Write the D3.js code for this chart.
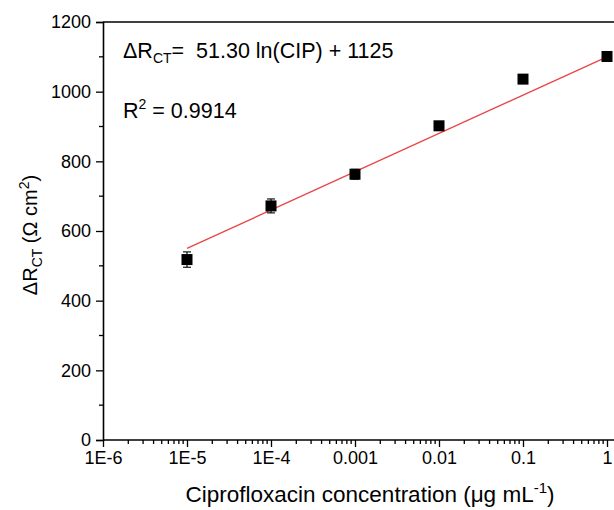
<!DOCTYPE html>
<html>
<head>
<meta charset="utf-8">
<script src="https://cdn.jsdelivr.net/npm/d3@7"></script>
<style>
  body { margin: 0; background: #fff; }
  svg text { font-family: "Liberation Sans", Arial, sans-serif; fill: #000; }
</style>
</head>
<body>
<div id="chart"></div>
<script>
// CIP concentration (µg/mL) and measured ΔRct (Ω cm²)
const conc = [1e-5, 1e-4, 1e-3, 1e-2, 1e-1, 1];
const dRct = [518, 672, 763, 902, 1036, 1101];
const errs = [22, 20, 14, 12, 6, 6];
// fitted line endpoints
const fitX = [1e-5, 1];
const fitY = [550, 1100];
const xTicks = [1e-6, 1e-5, 1e-4, 1e-3, 1e-2, 1e-1, 1];
const xTickLabels = ["1E-6", "1E-5", "1E-4", "0.001", "0.01", "0.1", "1"];
const yTicks = [0, 200, 400, 600, 800, 1000, 1200];

const W = 614, H = 510, M = {t: 22, r: -6, b: 70, l: 103};

const svg = d3.select("#chart").append("svg")
  .attr("width", W)
  .attr("height", H);

// 84 px per decade
const x = d3.scaleLog()
  .domain([1e-6, 1.3])
  .range([M.l, M.l + 84 * Math.log10(1.3e6)]);

const y = d3.scaleLinear()
  .domain([0, 1200])
  .range([H - M.b, M.t]);

// minor ticks for the log axis
const xMinor = [];
xTicks.forEach(t => {
  for (let k = 2; k <= 9; k++) if (t * k < 1.3) xMinor.push(t * k);
});
const yMinor = d3.range(100, 1200, 200);

// top frame line
svg.append("line")
  .attr("x1", M.l).attr("x2", W + 10)
  .attr("y1", y(1200)).attr("y2", y(1200))
  .attr("stroke", "#000").attr("stroke-width", 1.6);

// x axis
const xAxis = svg.append("g")
  .attr("transform", `translate(0,${y(0)})`)
  .call(d3.axisBottom(x).tickValues(xTicks)
    .tickFormat((d, i) => xTickLabels[i]).tickSize(7).tickPadding(4));
xAxis.selectAll(".minor").data(xMinor).enter().append("line")
  .attr("class", "minor")
  .attr("x1", d => x(d)).attr("x2", d => x(d))
  .attr("y1", 0).attr("y2", 4)
  .attr("stroke", "#000").attr("stroke-width", 1.3);

// y axis
const yAxis = svg.append("g")
  .attr("transform", `translate(${M.l},0)`)
  .call(d3.axisLeft(y).tickValues(yTicks).tickFormat(d3.format("d"))
    .tickSize(7).tickPadding(5));
yAxis.selectAll(".minor").data(yMinor).enter().append("line")
  .attr("class", "minor")
  .attr("x1", 0).attr("x2", -4)
  .attr("y1", d => y(d)).attr("y2", d => y(d))
  .attr("stroke", "#000").attr("stroke-width", 1.3);

[xAxis, yAxis].forEach(g => {
  g.attr("font-size", null).attr("font-family", null);
  g.select(".domain").attr("stroke-width", 1.6);
  g.selectAll(".tick line").attr("stroke-width", 1.3);
  g.selectAll(".tick text").attr("font-size", 18);
});
xAxis.select(".domain").attr("d", `M${M.l},0H${W + 10}`);

// fit line
svg.append("line")
  .attr("x1", x(fitX[0])).attr("y1", y(fitY[0]))
  .attr("x2", x(fitX[1])).attr("y2", y(fitY[1]))
  .attr("stroke", "#e8474a").attr("stroke-width", 1.4);

// error bars
const pts = conc.map((c, i) => ({c, v: dRct[i], e: errs[i]}));
const eb = svg.append("g").attr("stroke", "#000").attr("stroke-width", 1.1);
pts.forEach(d => {
  const cx = x(d.c);
  eb.append("line").attr("x1", cx).attr("x2", cx)
    .attr("y1", y(d.v - d.e)).attr("y2", y(d.v + d.e));
  [d.v - d.e, d.v + d.e].forEach(v => {
    eb.append("line").attr("x1", cx - 4).attr("x2", cx + 4)
      .attr("y1", y(v)).attr("y2", y(v));
  });
});

// markers
svg.selectAll("rect.pt").data(pts).enter().append("rect")
  .attr("class", "pt")
  .attr("x", d => x(d.c) - 5.5).attr("y", d => y(d.v) - 5.5)
  .attr("width", 11).attr("height", 11)
  .attr("fill", "#000");

// annotations
const eq = svg.append("text").attr("x", 123).attr("y", 58).attr("font-size", 21.5)
  .attr("xml:space", "preserve").style("white-space", "pre");
eq.append("tspan").text("ΔR");
eq.append("tspan").attr("font-size", 14).attr("dy", 5).text("CT");
eq.append("tspan").attr("dy", -5).text("=  51.30 ln(CIP) + 1125");

const r2 = svg.append("text").attr("x", 123).attr("y", 118).attr("font-size", 21.5);
r2.append("tspan").text("R");
r2.append("tspan").attr("font-size", 14).attr("dy", -9).text("2");
r2.append("tspan").attr("dy", 9).text(" = 0.9914");

// axis titles
const xl = svg.append("text")
  .attr("x", 370).attr("y", 502)
  .attr("text-anchor", "middle").attr("font-size", 22.5);
xl.append("tspan").text("Ciprofloxacin concentration (μg mL");
xl.append("tspan").attr("font-size", 15).attr("dy", -9).text("-1");
xl.append("tspan").attr("dy", 9).text(")");

const yl = svg.append("text")
  .attr("transform", `translate(37,235) rotate(-90)`)
  .attr("text-anchor", "middle").attr("font-size", 20);
yl.append("tspan").text("ΔR");
yl.append("tspan").attr("font-size", 14).attr("dy", 5).text("CT");
yl.append("tspan").attr("dy", -5).text(" (Ω cm");
yl.append("tspan").attr("font-size", 14).attr("dy", -8).text("2");
yl.append("tspan").attr("dy", 8).text(")");
</script>
</body>
</html>
